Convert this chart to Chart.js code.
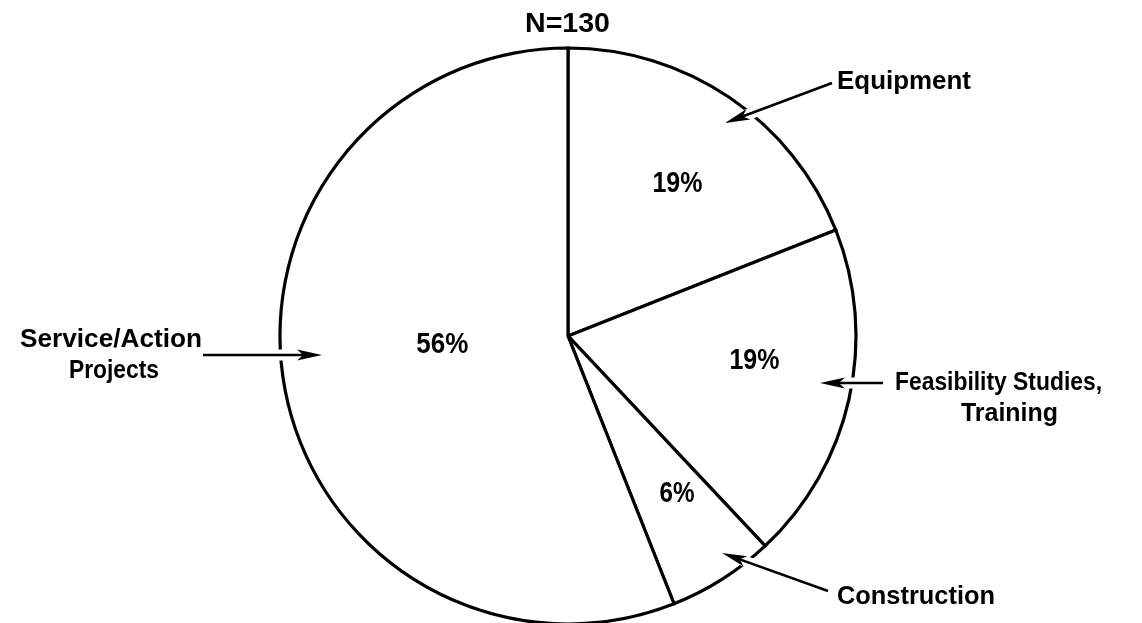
<!DOCTYPE html>
<html>
<head>
<meta charset="utf-8">
<title>Grant allocation by type</title>
<script src="https://cdn.jsdelivr.net/npm/chart.js@4/dist/chart.umd.min.js"></script>
<style>
  html, body { margin: 0; padding: 0; background: #fff; }
  #wrap { width: 1142px; height: 623px; position: relative; }
</style>
</head>
<body>
<div id="wrap"><canvas id="pie"></canvas></div>
<script>
// Share of projects by category (N = 130), clockwise from 12 o'clock
const categories = ['Equipment', 'Feasibility Studies, Training', 'Construction', 'Service/Action Projects'];
const shares = [19, 19, 6, 56];
const sampleSize = 130;

const FONT = '"Liberation Sans", Arial, Helvetica, sans-serif';

// Draw bold text fitted to a given width, starting at x on baseline y
function fitText(ctx, text, x, y, width, size) {
  ctx.save();
  ctx.font = 'bold ' + size + 'px ' + FONT;
  const w = ctx.measureText(text).width;
  ctx.translate(x, y);
  ctx.scale(width / w, 1);
  ctx.textAlign = 'left';
  ctx.textBaseline = 'alphabetic';
  ctx.fillText(text, 0, 0);
  ctx.restore();
}

// Arrow with a white halo so the circle is broken where the shaft crosses it
function arrow(ctx, x1, y1, x2, y2) {
  const ang = Math.atan2(y2 - y1, x2 - x1);
  const headLen = 25, headHalf = 5.5;
  ctx.save();
  ctx.lineCap = 'butt';
  ctx.strokeStyle = '#fff';
  ctx.lineWidth = 11;
  ctx.beginPath();
  ctx.moveTo(x1, y1);
  ctx.lineTo(x2 - Math.cos(ang) * 10, y2 - Math.sin(ang) * 10);
  ctx.stroke();
  ctx.strokeStyle = '#000';
  ctx.lineWidth = 2.6;
  ctx.beginPath();
  ctx.moveTo(x1, y1);
  ctx.lineTo(x2 - Math.cos(ang) * 10, y2 - Math.sin(ang) * 10);
  ctx.stroke();
  ctx.fillStyle = '#000';
  ctx.beginPath();
  ctx.moveTo(x2, y2);
  const bx = x2 - Math.cos(ang) * headLen, by = y2 - Math.sin(ang) * headLen;
  const nx = -Math.sin(ang), ny = Math.cos(ang);
  ctx.lineTo(bx + nx * headHalf, by + ny * headHalf);
  ctx.lineTo(x2 - Math.cos(ang) * headLen * 0.75, y2 - Math.sin(ang) * headLen * 0.75);
  ctx.lineTo(bx - nx * headHalf, by - ny * headHalf);
  ctx.closePath();
  ctx.fill();
  ctx.restore();
}

// Percent labels inside slices: polar placement (degrees offset from slice middle, radius px)
const percentPlacement = [
  { dAngle: 1.4, r: 188, width: 50 },
  { dAngle: -5.3, r: 188, width: 50 },
  { dAngle: -2.4, r: 191, width: 35 },
  { dAngle: 7.2, r: 126, width: 52 }
];

// Callout text lines and their arrows
const callouts = [
  { lines: [{ t: 'Equipment', x: 837, y: 89, w: 134, s: 26 }], arrow: [832, 83, 725, 123] },
  { lines: [{ t: 'Feasibility Studies,', x: 895, y: 390, w: 207, s: 25 },
            { t: 'Training', x: 961, y: 421, w: 97, s: 25 }], arrow: [883, 383, 820, 383] },
  { lines: [{ t: 'Construction', x: 837, y: 604, w: 158, s: 26 }], arrow: [828, 591, 722, 553] },
  { lines: [{ t: 'Service/Action', x: 20, y: 347, w: 182, s: 26 },
            { t: 'Projects', x: 69, y: 378, w: 90, s: 26 }], arrow: [203, 355, 322, 355] }
];

const annotations = {
  id: 'annotations',
  afterDatasetsDraw(chart) {
    const ctx = chart.ctx;
    ctx.fillStyle = '#000';
    const meta = chart.getDatasetMeta(0);
    const values = chart.data.datasets[0].data;

    meta.data.forEach((arc, i) => {
      const p = percentPlacement[i];
      const mid = (arc.startAngle + arc.endAngle) / 2 + p.dAngle * Math.PI / 180;
      const cx = arc.x + Math.cos(mid) * p.r;
      const cy = arc.y + Math.sin(mid) * p.r;
      const text = values[i] + '%';
      ctx.save();
      ctx.font = 'bold 29px ' + FONT;
      const w = ctx.measureText(text).width;
      ctx.translate(cx, cy);
      ctx.scale(p.width / w, 1);
      ctx.textAlign = 'center';
      ctx.textBaseline = 'middle';
      ctx.fillText(text, 0, 1);
      ctx.restore();
    });

    fitText(ctx, 'N=' + sampleSize, 525, 32, 85, 27);

    callouts.forEach(c => {
      arrow(ctx, c.arrow[0], c.arrow[1], c.arrow[2], c.arrow[3]);
      c.lines.forEach(l => fitText(ctx, l.t, l.x, l.y, l.w, l.s));
    });
  }
};

new Chart(document.getElementById('pie'), {
  type: 'pie',
  data: {
    labels: categories,
    datasets: [{
      data: shares,
      backgroundColor: '#ffffff',
      borderColor: '#000000',
      borderWidth: 3.2,
      borderJoinStyle: 'miter',
      radius: 288,
      clip: false
    }]
  },
  options: {
    responsive: true,
    maintainAspectRatio: false,
    animation: false,
    rotation: 0,
    layout: { padding: { top: 50, bottom: 1, left: 0, right: 6 } },
    plugins: {
      legend: { display: false },
      tooltip: { enabled: false }
    }
  },
  plugins: [annotations]
});
</script>
</body>
</html>
